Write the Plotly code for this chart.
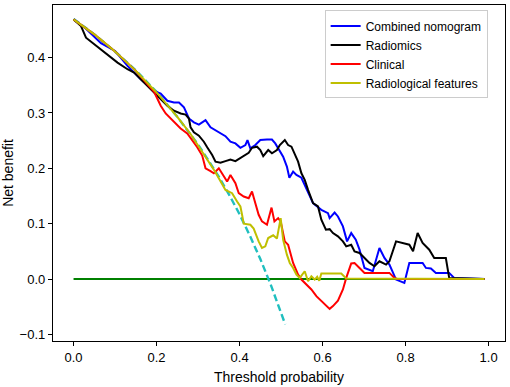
import plotly.graph_objects as go

# Threshold probability / net benefit values
combined_x = [0, 0.03, 0.066, 0.1, 0.13, 0.162, 0.194, 0.21, 0.226, 0.242, 0.254, 0.266, 0.278, 0.29, 0.302,
              0.318, 0.33, 0.342, 0.354, 0.366, 0.378, 0.39, 0.402, 0.414, 0.419, 0.426, 0.438, 0.45, 0.466,
              0.478, 0.486, 0.497, 0.505, 0.514, 0.52, 0.529, 0.537, 0.549, 0.561, 0.577, 0.597, 0.613, 0.617,
              0.629, 0.637, 0.649, 0.659, 0.669, 0.68, 0.689, 0.701, 0.721, 0.737, 0.749, 0.761, 0.777, 0.797,
              0.809, 0.841, 0.849, 0.861, 0.873, 0.905, 0.917, 0.99]
combined_y = [0.469, 0.452, 0.426, 0.412, 0.385, 0.361, 0.340, 0.335, 0.322, 0.319, 0.319, 0.310, 0.290, 0.283,
              0.279, 0.287, 0.274, 0.269, 0.264, 0.258, 0.248, 0.245, 0.237, 0.242, 0.251, 0.236, 0.242, 0.251,
              0.252, 0.252, 0.245, 0.230, 0.221, 0.203, 0.183, 0.194, 0.188, 0.183, 0.164, 0.137, 0.125, 0.119,
              0.110, 0.120, 0.113, 0.095, 0.068, 0.083, 0.071, 0.053, 0.020, 0.014, 0.056, 0.038, 0.026, -0.001,
              -0.007, 0.029, 0.029, 0.020, 0.019, 0.011, 0.011, 0.002, 0.0]

radiomics_x = [0, 0.018, 0.03, 0.106, 0.13, 0.146, 0.162, 0.178, 0.21, 0.226, 0.242, 0.258, 0.27, 0.278, 0.282,
               0.29, 0.302, 0.314, 0.322, 0.334, 0.342, 0.354, 0.366, 0.378, 0.39, 0.406, 0.414, 0.422, 0.43,
               0.442, 0.45, 0.457, 0.469, 0.478, 0.49, 0.497, 0.509, 0.517, 0.525, 0.533, 0.541, 0.549, 0.557,
               0.565, 0.577, 0.589, 0.597, 0.608, 0.617, 0.625, 0.637, 0.649, 0.657, 0.669, 0.677, 0.689, 0.701,
               0.713, 0.725, 0.737, 0.753, 0.761, 0.777, 0.797, 0.809, 0.818, 0.829, 0.841, 0.857, 0.869, 0.897,
               0.905, 0.99]
radiomics_y = [0.469, 0.457, 0.436, 0.391, 0.379, 0.373, 0.361, 0.349, 0.326, 0.313, 0.304, 0.299, 0.297, 0.290,
               0.274, 0.265, 0.259, 0.248, 0.238, 0.224, 0.212, 0.210, 0.213, 0.216, 0.213, 0.221, 0.224, 0.228,
               0.237, 0.239, 0.233, 0.222, 0.233, 0.227, 0.233, 0.242, 0.251, 0.242, 0.239, 0.227, 0.212, 0.191,
               0.179, 0.161, 0.137, 0.131, 0.107, 0.089, 0.090, 0.083, 0.077, 0.068, 0.059, 0.062, 0.050, 0.047,
               0.038, 0.029, 0.023, 0.032, 0.026, 0.032, 0.068, 0.065, 0.062, 0.050, 0.083, 0.065, 0.053, 0.038,
               0.038, 0.002, 0.0]

clinical_x = [0, 0.05, 0.1, 0.15, 0.194, 0.21, 0.222, 0.234, 0.246, 0.258, 0.274, 0.286, 0.298, 0.31, 0.318,
              0.33, 0.338, 0.35, 0.362, 0.37, 0.378, 0.39, 0.398, 0.41, 0.422, 0.43, 0.438, 0.446, 0.454, 0.466,
              0.477, 0.484, 0.493, 0.499, 0.509, 0.517, 0.529, 0.541, 0.549, 0.561, 0.573, 0.585, 0.601, 0.617,
              0.625, 0.637, 0.649, 0.657, 0.669, 0.677, 0.689, 0.701, 0.761, 0.773, 0.78, 0.99]
clinical_y = [0.469, 0.442, 0.411, 0.376, 0.338, 0.313, 0.299, 0.290, 0.281, 0.272, 0.263, 0.251, 0.238, 0.223,
              0.200, 0.195, 0.191, 0.200, 0.185, 0.176, 0.188, 0.173, 0.155, 0.149, 0.146, 0.158, 0.137, 0.116,
              0.104, 0.098, 0.129, 0.104, 0.110, 0.104, 0.068, 0.062, 0.029, 0.008, -0.001, -0.010, -0.019,
              -0.031, -0.043, -0.054, -0.049, -0.039, -0.019, 0.002, 0.028, 0.029, 0.020, 0.011, 0.011, 0.002,
              0.0, 0.0]

radiological_x = [0, 0.05, 0.1, 0.15, 0.2, 0.25, 0.282, 0.314, 0.34, 0.366, 0.374, 0.382, 0.394, 0.402, 0.406,
                  0.41, 0.426, 0.434, 0.446, 0.454, 0.462, 0.469, 0.481, 0.49, 0.499, 0.505, 0.514, 0.521, 0.529,
                  0.537, 0.545, 0.557, 0.565, 0.573, 0.581, 0.587, 0.592, 0.597, 0.645, 0.657, 0.99]
radiological_y = [0.469, 0.442, 0.411, 0.376, 0.337, 0.293, 0.262, 0.225, 0.195, 0.161, 0.158, 0.155, 0.140,
                  0.131, 0.116, 0.100, 0.098, 0.091, 0.068, 0.056, 0.059, 0.074, 0.079, 0.073, 0.110, 0.071,
                  0.044, 0.029, 0.020, 0.008, 0.002, 0.014, -0.004, 0.005, -0.001, 0.004, -0.003, 0.010, 0.010,
                  0.001, 0.0]

treat_all_x = [0, 0.05, 0.1, 0.15, 0.2, 0.25, 0.3, 0.35, 0.375, 0.4, 0.425, 0.45, 0.475, 0.5, 0.51]
treat_all_y = [0.47, 0.442, 0.411, 0.377, 0.338, 0.293, 0.243, 0.185, 0.152, 0.117, 0.078, 0.036, -0.010,
               -0.060, -0.082]

treat_none_x = [0, 0.99]
treat_none_y = [0, 0]

x_ticks = [0.0, 0.2, 0.4, 0.6, 0.8, 1.0]
y_ticks = [-0.1, 0.0, 0.1, 0.2, 0.3, 0.4]

FONT = "Arial, Liberation Sans, sans-serif"

fig = go.Figure()
fig.add_trace(go.Scatter(x=treat_none_x, y=treat_none_y, mode="lines",
                         line=dict(color="#008000", width=2), showlegend=False, hoverinfo="skip"))
fig.add_trace(go.Scatter(x=treat_all_x, y=treat_all_y, mode="lines",
                         line=dict(color="#1fbfbf", width=2.4, dash="7px,3.5px"), showlegend=False,
                         hoverinfo="skip"))
fig.add_trace(go.Scatter(x=combined_x, y=combined_y, mode="lines", name="Combined nomogram",
                         line=dict(color="#0000ff", width=2)))
fig.add_trace(go.Scatter(x=radiomics_x, y=radiomics_y, mode="lines", name="Radiomics",
                         line=dict(color="#000000", width=2)))
fig.add_trace(go.Scatter(x=clinical_x, y=clinical_y, mode="lines", name="Clinical",
                         line=dict(color="#ff0000", width=2)))
fig.add_trace(go.Scatter(x=radiological_x, y=radiological_y, mode="lines", name="Radiological features",
                         line=dict(color="#bfbf00", width=2)))

axis_common = dict(showgrid=False, zeroline=False, showline=True, mirror=True, linecolor="black",
                   linewidth=1.3, ticks="outside", ticklen=4, tickwidth=1, tickcolor="black",
                   tickfont=dict(family=FONT, size=13, color="black"), tickformat=".1f")

fig.update_xaxes(range=[-0.0495, 1.0395], tickvals=x_ticks,
                 title=dict(text="Threshold probability", font=dict(family=FONT, size=14, color="black"),
                            standoff=8),
                 **axis_common)
fig.update_yaxes(range=[-0.112, 0.495], tickvals=y_ticks,
                 title=dict(text="Net benefit", font=dict(family=FONT, size=14, color="black"),
                            standoff=6),
                 **axis_common)

fig.update_layout(
    width=510, height=387,
    margin=dict(l=52, r=5, t=4, b=45),
    plot_bgcolor="white", paper_bgcolor="white",
    font=dict(family=FONT, color="black"),
    legend=dict(x=0.601, y=0.984, xanchor="left", yanchor="top", bgcolor="white",
                bordercolor="#cccccc", borderwidth=1, font=dict(family=FONT, size=12, color="black"),
                tracegroupgap=0),
)

fig.write_html("out.html", config={"displayModeBar": False},
               post_script="document.body.style.margin='0px';document.body.style.overflow='hidden';")
